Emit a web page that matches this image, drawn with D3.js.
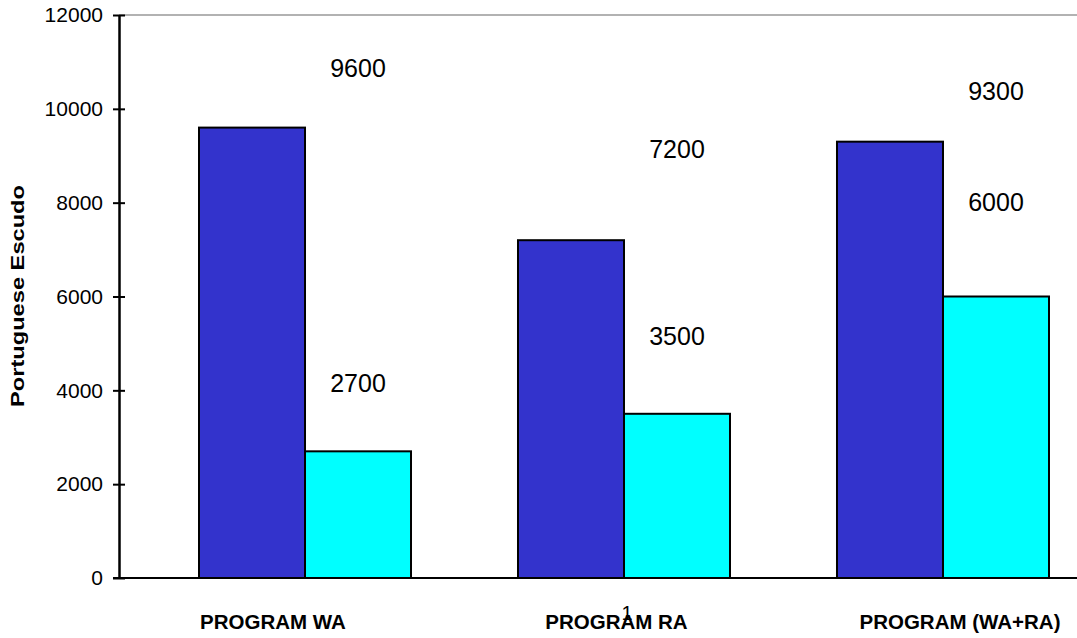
<!doctype html>
<html>
<head>
<meta charset="utf-8">
<title>Portuguese Escudo</title>
<style>
* {padding:0;margin:0}
body {background:#fff}
svg {display:block;font-family:"Liberation Sans", Arial, sans-serif}
</style>
</head>
<body>
<div id="chart"></div>
<script src="https://d3js.org/d3.v7.min.js"></script>
<script>

	// data
	const categories = ["PROGRAM WA", "PROGRAM RA", "PROGRAM (WA+RA)"];
	const seriesNames = ["first", "second"];
	const firstValues = [9600, 7200, 9300];
	const secondValues = [2700, 3500, 6000];
	// where the value labels float (in escudo units, they are not at the bar tops)
	const firstLabelAt = [10680, 8960, 10190];
	const secondLabelAt = [3960, 4970, 7820];
	const yTicks = [0, 2000, 4000, 6000, 8000, 10000, 12000];

	const W = 1077, H = 638;
	const plotLeft = 119, plotTop = 15, plotBottom = 578;

	const svg = d3.select("#chart").append("svg")
		.attr("width", W)
		.attr("height", H);

	const y = d3.scaleLinear().domain([0, 12000]).range([plotBottom, plotTop]);

	// bands go a bit past the right edge, the picture is cropped there
	const x0 = d3.scaleBand().domain(categories)
		.range([plotLeft, 1129])
		.paddingInner(0.3354)
		.paddingOuter(0.2508);
	const x1 = d3.scaleBand().domain(seriesNames).range([0, x0.bandwidth()]);
	// category captions sit on their own spacing
	const xLab = d3.scalePoint().domain(categories).range([273, 960]);

	const colors = {first: "#3333cc", second: "#00ffff"};

	// top border
	svg.append("line")
		.attr("x1", plotLeft).attr("x2", W)
		.attr("y1", plotTop).attr("y2", plotTop)
		.attr("stroke", "#999").attr("stroke-width", 1.5);

	const rows = categories.map(function(c, i) {
		return {cat: c, vals: [
			{key: "first", v: firstValues[i], at: firstLabelAt[i]},
			{key: "second", v: secondValues[i], at: secondLabelAt[i]}
		]};
	});

	const groups = svg.selectAll("g.grp").data(rows).enter()
		.append("g")
		.attr("class", "grp")
		.attr("transform", function(d){ return "translate(" + x0(d.cat) + ",0)"; });

	groups.selectAll("rect").data(function(d){ return d.vals; }).enter()
		.append("rect")
		.attr("x", function(d){ return x1(d.key); })
		.attr("y", function(d){ return y(d.v); })
		.attr("width", x1.bandwidth())
		.attr("height", function(d){ return y(0) - y(d.v); })
		.attr("fill", function(d){ return colors[d.key]; })
		.attr("stroke", "#000")
		.attr("stroke-width", 2);

	// value labels, centred over the second bar of each group
	groups.selectAll("text.val").data(function(d){ return d.vals; }).enter()
		.append("text")
		.attr("class", "val")
		.attr("x", x1("second") + x1.bandwidth() / 2)
		.attr("y", function(d){ return y(d.at); })
		.attr("text-anchor", "middle")
		.attr("font-size", "25px")
		.attr("fill", "#000")
		.text(function(d){ return d.v; });

	// y axis
	const yAxis = d3.axisLeft(y).tickValues(yTicks).tickSize(0).tickPadding(16)
		.tickFormat(d3.format("d"));
	const gy = svg.append("g")
		.attr("transform", "translate(" + plotLeft + ",0)")
		.call(yAxis);
	gy.attr("font-family", "Liberation Sans, Arial, sans-serif");
	gy.select(".domain").attr("stroke", "#000").attr("stroke-width", 2.5);
	gy.selectAll(".tick text").attr("font-size", "21px").attr("fill", "#000");
	gy.selectAll(".tick").append("line")
		.attr("x1", -6).attr("x2", 6)
		.attr("stroke", "#000").attr("stroke-width", 2);

	// baseline
	svg.append("line")
		.attr("x1", plotLeft - 6).attr("x2", W)
		.attr("y1", y(0)).attr("y2", y(0))
		.attr("stroke", "#000").attr("stroke-width", 2);

	// category captions
	svg.selectAll("text.cat").data(categories).enter()
		.append("text")
		.attr("class", "cat")
		.attr("x", function(d){ return xLab(d); })
		.attr("y", 629)
		.attr("text-anchor", "middle")
		.attr("font-size", "20.5px")
		.attr("font-weight", "bold")
		.attr("fill", "#000")
		.text(function(d){ return d; });

	// stray page number in the original, it sits on the middle caption there too
	svg.append("text")
		.attr("x", 627).attr("y", 620)
		.attr("text-anchor", "middle")
		.attr("font-size", "20px")
		.attr("fill", "#000")
		.text("1");

	// y title
	svg.append("text")
		.attr("transform", "translate(24,296) rotate(-90)")
		.attr("text-anchor", "middle")
		.attr("font-size", "19px")
		.attr("font-weight", "bold")
		.attr("textLength", 222)
		.attr("lengthAdjust", "spacingAndGlyphs")
		.attr("fill", "#000")
		.text("Portuguese Escudo");

</script>
</body>
</html>
